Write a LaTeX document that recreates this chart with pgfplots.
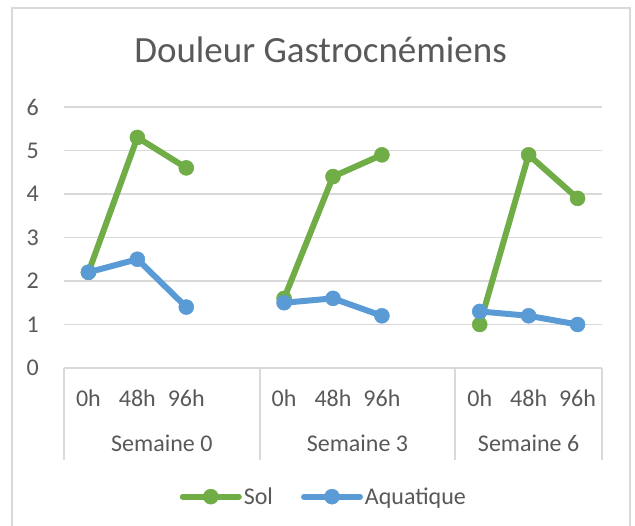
\documentclass[border=0pt]{standalone}
\usepackage{fontspec}
\setmainfont{Carlito}
\usepackage{pgfplots}
\pgfplotsset{compat=1.18}
\definecolor{tx}{HTML}{595959}
\definecolor{gr}{HTML}{D9D9D9}
\definecolor{sol}{HTML}{70AD47}
\definecolor{aqua}{HTML}{5B9BD5}
\begin{document}
\begin{tikzpicture}
\useasboundingbox (0pt,0pt) rectangle (635pt,526pt);
\fill[white] (0pt,0pt) rectangle (635pt,526pt);
\draw[gr, line width=2pt] (11.5pt,-2pt) -- (11.5pt,518pt) -- (629.5pt,518pt) -- (629.5pt,-2pt);
\begin{axis}[
 at={(64pt,158pt)}, anchor=south west,
 scale only axis, width=538pt, height=261pt,
 xmin=-0.5, xmax=10.5, ymin=0, ymax=6,
 ytick={0,1,2,3,4,5,6},
 xtick={0,1,2,4,5,6,8,9,10},
 xticklabels={0h,48h,96h,0h,48h,96h,0h,48h,96h},
 extra x ticks={1.5,5.5,9},
 extra x tick labels={Semaine 0,Semaine 3,Semaine 6},
 extra x tick style={xticklabel style={yshift=-45pt}},
 minor xtick={-0.5,3.5,7.5,10.5},
 major tick length=0pt,
 minor tick length=92pt,
 tick align=outside,
 minor tick style={gr, line width=2pt},
 axis x line*=bottom, axis y line*=left,
 x axis line style={gr, line width=2pt},
 y axis line style={draw=none},
 ymajorgrids, major grid style={gr, line width=1.8pt},
 tick label style={font=\fontsize{24}{28}\selectfont, text=tx},
 yticklabel style={anchor=east, inner sep=0pt, xshift=-25pt},
 xticklabel style={anchor=base, inner sep=0pt, yshift=-38.7pt},
 /pgf/number format/assume math mode=true,
 unbounded coords=jump,
 title={Douleur Gastrocnémiens},
 title style={at={(axis description cs:0.4768,1)}, anchor=base, yshift=38.5pt, font=\fontsize{37}{43}\selectfont, text=tx, inner sep=0pt},
 legend columns=2,
 legend style={at={(axis description cs:0.483,-0.493)}, anchor=center, draw=none, fill=none, font=\fontsize{24}{28}\selectfont, text=tx, /tikz/every even column/.append style={column sep=26pt}, nodes={inner sep=2pt}},
 legend image code/.code={\draw[mark repeat=2,mark phase=2,#1] plot coordinates {(0pt,0pt) (28pt,0pt) (56pt,0pt)};},
]
\addplot[sol, line width=6pt, line cap=round, line join=round, mark=*, mark size=7.5pt, mark options={solid, fill=sol, draw=sol, line width=0.5pt}] coordinates {
(0,2.2) (1,5.3) (2,4.6) (3,nan) (4,1.6) (5,4.4) (6,4.9) (7,nan) (8,1.0) (9,4.9) (10,3.9)};
\addlegendentry{Sol}
\addplot[aqua, line width=6pt, line cap=round, line join=round, mark=*, mark size=7.5pt, mark options={solid, fill=aqua, draw=aqua, line width=0.5pt}] coordinates {
(0,2.2) (1,2.5) (2,1.4) (3,nan) (4,1.5) (5,1.6) (6,1.2) (7,nan) (8,1.3) (9,1.2) (10,1.0)};
\addlegendentry{Aquatique}
\end{axis}
\end{tikzpicture}
\end{document}
